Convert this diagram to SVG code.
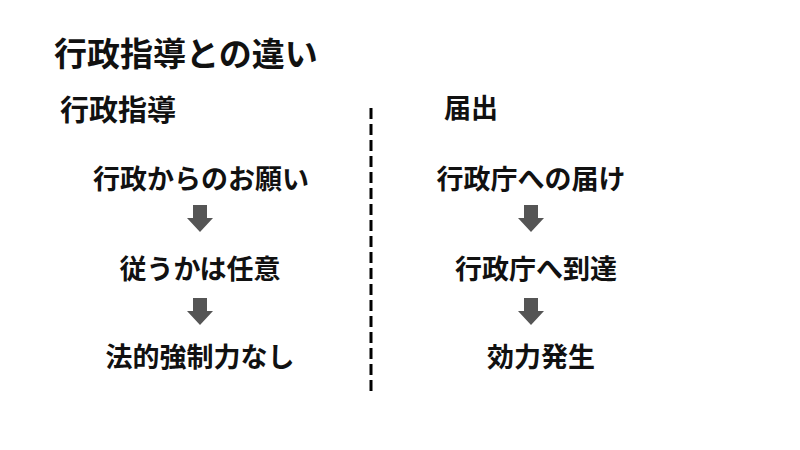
<svg xmlns="http://www.w3.org/2000/svg" width="800" height="450" viewBox="0 0 800 450">
<defs>
<style>
text{font-family:"Noto Sans CJK JP","Noto Sans CJK SC",sans-serif;font-weight:bold;fill:#111}
.t{font-size:33px}
.h{font-size:29px}
.hr{font-size:27px}
.n{font-size:27px;text-anchor:middle}
.arr{fill:#555}
</style>
<path id="dn" d="M-7,0 H7 V13 H13 L0,27 L-13,13 H-7 Z"/>
</defs>
<rect width="800" height="450" fill="#fff"/>
<text class="t" x="54" y="66">行政指導との違い</text>
<g id="head-left"><text class="h" x="60" y="121">行政指導</text></g>
<g id="head-right"><text class="hr" x="444" y="118">届出</text></g>
<g id="divider"><line x1="371" y1="108" x2="371" y2="392" stroke="#000" stroke-width="3" stroke-dasharray="11,5"/></g>
<g id="n1"><text class="n" x="201" y="189">行政からのお願い</text></g>
<g id="n2"><text class="n" x="200" y="279">従うかは任意</text></g>
<g id="n3"><text class="n" x="200" y="367">法的強制力なし</text></g>
<g id="n4"><text class="n" x="531" y="189">行政庁への届け</text></g>
<g id="n5"><text class="n" x="536" y="279">行政庁へ到達</text></g>
<g id="n6"><text class="n" x="541" y="367">効力発生</text></g>
<g id="connectors" class="arr">
<use href="#dn" x="200" y="205"/>
<use href="#dn" x="200" y="298"/>
<use href="#dn" x="531" y="205"/>
<use href="#dn" x="531" y="298"/>
</g>
</svg>
